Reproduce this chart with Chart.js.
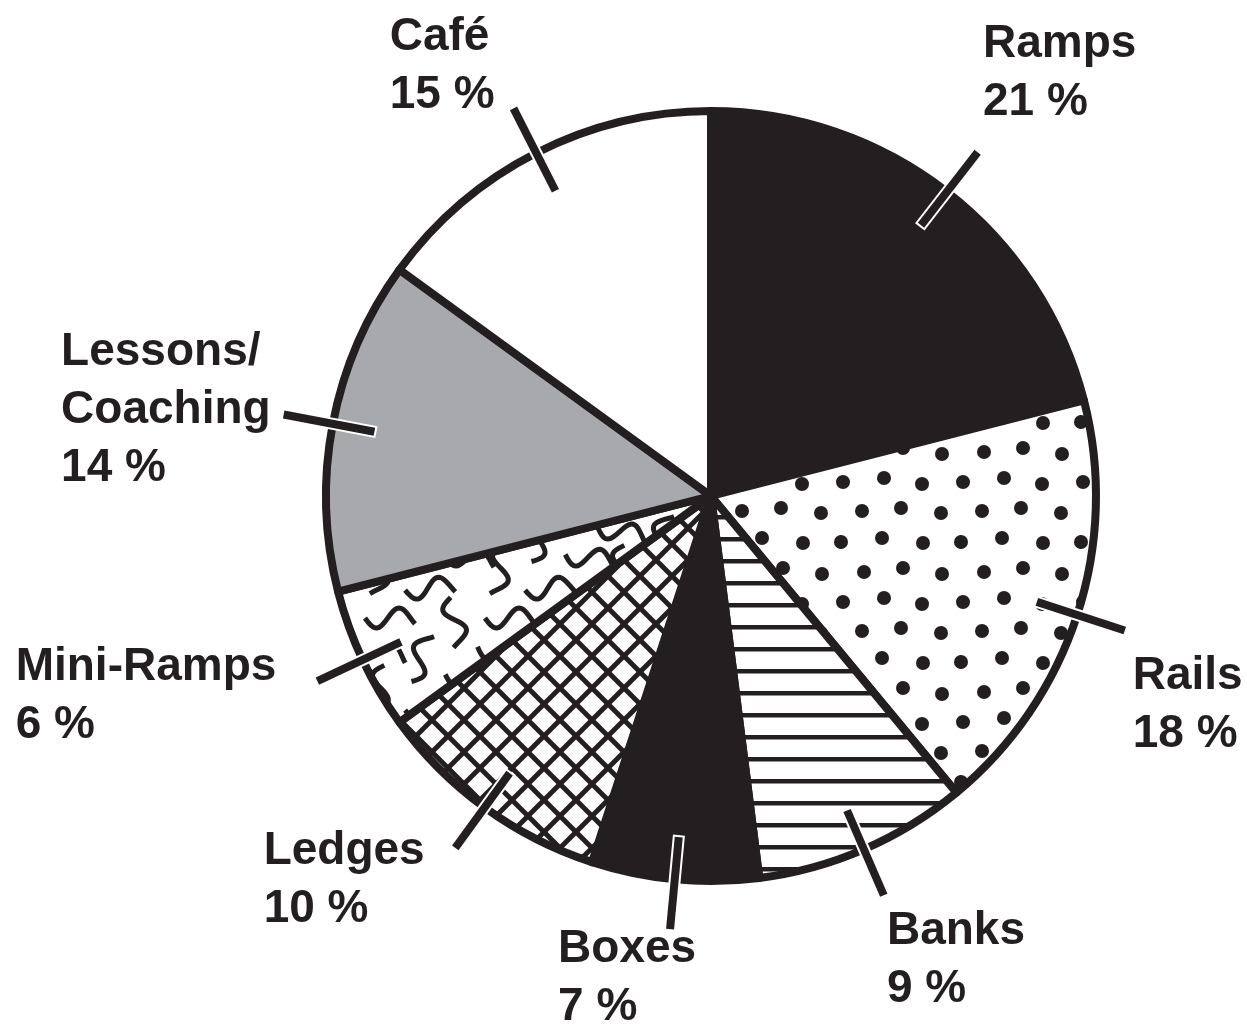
<!DOCTYPE html>
<html>
<head>
<meta charset="utf-8">
<script src="https://cdn.jsdelivr.net/npm/chart.js@4.4.1/dist/chart.umd.min.js"></script>
<style>
  html, body { margin: 0; padding: 0; background: #fff; }
  #wrap { width: 1247px; height: 1027px; position: relative; }
</style>
</head>
<body>
<div id="wrap"><canvas id="myChart"></canvas></div>
<script>
const categories = ['Ramps', 'Rails', 'Banks', 'Boxes', 'Ledges', 'Mini-Ramps', 'Lessons/Coaching', 'Café'];
const shares = [21, 18, 9, 7, 10, 6, 14, 15];
const shareLabels = shares.map(v => v + ' %');

const INK = '#231f20';
const GREY = '#a7a9ac';

// hand tweaks for where each callout text block sits (px)
const calloutNudge = [[-3, -27], [-2, 44], [22, 6], [-31, -10], [-26, -27], [-31, -27], [-3, 17], [-26, 10]];

// little tiles for the hatched slices
function tile(w, h, draw) {
    const c = document.createElement('canvas');
    c.width = w; c.height = h;
    const g = c.getContext('2d');
    g.fillStyle = '#fff';
    g.fillRect(0, 0, w, h);
    g.fillStyle = INK;
    g.strokeStyle = INK;
    draw(g, w, h);
    return g.createPattern(c, 'repeat');
}

const dots = tile(120, 120, function (g, w, h) {
    const pts = [[3,2],[44,-2],[82,4],[22,31],[61,28],[101,33],[1,62],[42,58],[83,63],[24,92],[63,88],[102,94]];
    pts.forEach(p => {
        for (let ox = -1; ox <= 1; ox++) for (let oy = -1; oy <= 1; oy++) {
            g.beginPath();
            g.arc(p[0] + ox*w, p[1] + oy*h, 7, 0, Math.PI*2);
            g.fill();
        }
    });
});

const stripes = tile(8, 22, function (g, w) {
    g.fillRect(0, 9, w, 4.5);
});

const grid = tile(32, 32, function (g) {
    g.lineWidth = 5;
    g.beginPath();
    for (let o = -32; o <= 32; o += 32) {
        g.moveTo(o, 0); g.lineTo(o + 32, 32);
        g.moveTo(o + 32, 0); g.lineTo(o, 32);
    }
    g.stroke();
});

const waves = tile(120, 120, function (g, w, h) {
    // x, y, rotation (deg)
    const sq = [[30,18,0],[95,22,80],[60,58,-70],[110,78,8],[20,90,100],[70,108,-5],[22,52,12]];
    g.lineWidth = 5;
    sq.forEach(s => {
        for (let ox = -1; ox <= 1; ox++) for (let oy = -1; oy <= 1; oy++) {
            g.save();
            g.translate(s[0] + ox*w, s[1] + oy*h);
            g.rotate(s[2] * Math.PI / 180);
            g.beginPath();
            for (let t = 0; t <= 1.0001; t += 0.04) {
                const x = -25 + t*50;
                const y = 10 * Math.sin(t * Math.PI * 2.2);
                if (t === 0) g.moveTo(x, y); else g.lineTo(x, y);
            }
            g.stroke();
            g.restore();
        }
    });
});

const fills = [INK, dots, stripes, INK, grid, waves, GREY, '#fff'];

function lean(u) {
    return Math.max(-1, Math.min(1, u * 1.6));
}

const calloutPlugin = {
    id: 'callouts',
    afterDatasetsDraw(chart) {
        const ctx = chart.ctx;
        const meta = chart.getDatasetMeta(0);
        ctx.save();
        ctx.font = 'bold 46px "Liberation Sans", Arial, sans-serif';
        ctx.textBaseline = 'alphabetic';
        ctx.textAlign = 'left';
        meta.data.forEach((arc, i) => {
            const p = arc.getProps(['x', 'y', 'startAngle', 'endAngle', 'outerRadius'], true);
            const a = (p.startAngle + p.endAngle) / 2;
            const ux = Math.cos(a), uy = Math.sin(a);
            const r1 = p.outerRadius * 0.89, r2 = p.outerRadius * 1.13;

            // leader: white casing, then ink
            ctx.lineCap = 'butt';
            ctx.strokeStyle = '#fff';
            ctx.lineWidth = 12;
            ctx.beginPath();
            ctx.moveTo(p.x + ux*(r1 - 2), p.y + uy*(r1 - 2));
            ctx.lineTo(p.x + ux*(r2 + 2), p.y + uy*(r2 + 2));
            ctx.stroke();
            ctx.strokeStyle = INK;
            ctx.lineWidth = 8;
            ctx.beginPath();
            ctx.moveTo(p.x + ux*r1, p.y + uy*r1);
            ctx.lineTo(p.x + ux*r2, p.y + uy*r2);
            ctx.stroke();

            const ex = p.x + ux*r2, ey = p.y + uy*r2;
            const lines = categories[i].replace('/', '/\n').split('\n').concat([shareLabels[i]]);
            const w = Math.max(...lines.map(l => ctx.measureText(l).width));
            const hgt = 33 + (lines.length - 1) * 58;
            const cx = ex + lean(ux) * (w/2 + 10);
            const cy = ey + lean(uy) * (hgt/2 + 10);
            const left = cx - w/2 + calloutNudge[i][0];
            const top = cy - hgt/2 + calloutNudge[i][1];
            ctx.fillStyle = INK;
            lines.forEach((l, k) => ctx.fillText(l, left, top + 33 + k*58));
        });
        ctx.restore();
    }
};

const data = {
    labels: categories,
    datasets: [{
        data: shares,
        backgroundColor: fills,
        borderColor: INK,
        borderWidth: 8,
        borderJoinStyle: 'round',
        hoverOffset: 0
    }]
};

var ctx = document.getElementById('myChart');

var myChart = new Chart(ctx, {
    type: 'pie',
    data: data,
    plugins: [calloutPlugin],
    options: {
        responsive: true,
        maintainAspectRatio: false,
        animation: false,
        layout: {
            padding: { left: 322, top: 107, right: 147, bottom: 142 }
        },
        plugins: {
            legend: { display: false },
            tooltip: { enabled: false }
        }
    }
});
</script>
</body>
</html>
